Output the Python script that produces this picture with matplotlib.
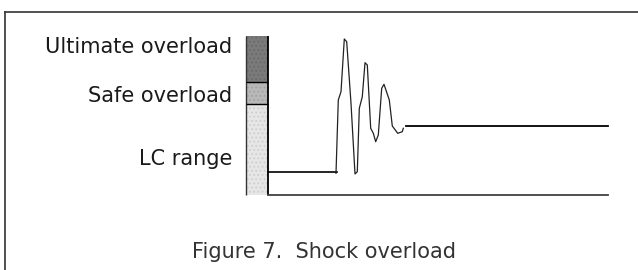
import matplotlib
matplotlib.use("Agg")
import matplotlib.pyplot as plt
from matplotlib.lines import Line2D

# --- data ---
zone_labels = ["LC range", "Safe overload", "Ultimate overload"]
zone_bottoms = [0, 91, 113]
zone_heights = [91, 22, 46]
zone_colors = ["#e6e6e6", "#b8b8b8", "#7a7a7a"]
zone_dots = ["#cfcfcf", "#a2a2a2", "#6a6a6a"]
label_y = [30, 93.3, 141.7]

pre_t = [0, 69]
pre_load = [23, 23]
shock_t = [68, 70.3, 73, 76.3, 78.7, 83, 87, 89.3, 91.3, 94.3, 97, 99.3, 102.7,
           105.3, 107.7, 110.3, 113.7, 116, 121.3, 124.3, 129.7, 134.3, 135.3]
shock_load = [21.7, 95, 103.3, 156, 153.3, 91.7, 21, 23.3, 86.7, 98.3, 132.3, 130,
              66.7, 61.7, 53.3, 60, 106.7, 110.7, 95, 69, 61.7, 63.3, 66.7]
post_t = [137.7, 340]
post_load = [69, 69]
base_t = [0, 340]
caption = "Figure 7.  Shock overload"

plt.rcParams["hatch.linewidth"] = 0.8
fig = plt.figure(figsize=(6.38, 2.70), dpi=100)
ax = fig.add_axes([0, 0, 1, 1])
ax.set_xlim(-268, 370)
ax.set_ylim(-75, 195)
ax.axis("off")

font = ["DejaVu Sans"]
for lab, b, h, c, d, ly in zip(zone_labels, zone_bottoms, zone_heights, zone_colors, zone_dots, label_y):
    ax.bar(-11, h, width=22, bottom=b, color=c, edgecolor=d, linewidth=0, hatch="....")
    ax.text(-36, ly, lab, ha="right", va="baseline", fontsize=15, color="#1a1a1a", family=font)
# bar outlines
ax.vlines([-22], 0, 159, color="#333333", lw=1.0)
ax.vlines([0], 0, 159, color="black", lw=1.3)
ax.hlines([91, 113], -22, 0, color="black", lw=1.0)

ax.plot(base_t, [0, 0], color="#404040", lw=1.3)
ax.plot(pre_t, pre_load, color="black", lw=1.2)
ax.plot(shock_t, shock_load, color="#222222", lw=0.9)
ax.plot(post_t, post_load, color="black", lw=1.3)

ax.text(56.5, -62.7, caption, ha="center", va="baseline", fontsize=15, color="#333333", family=font)

# outer frame (top and left edges)
fig.add_artist(Line2D([5/638, 1], [1-11.5/270, 1-11.5/270], transform=fig.transFigure, color="#333333", lw=1.2))
fig.add_artist(Line2D([5/638, 5/638], [0, 1-11.5/270], transform=fig.transFigure, color="#333333", lw=1.2))

fig.savefig("out.png", dpi=100)
